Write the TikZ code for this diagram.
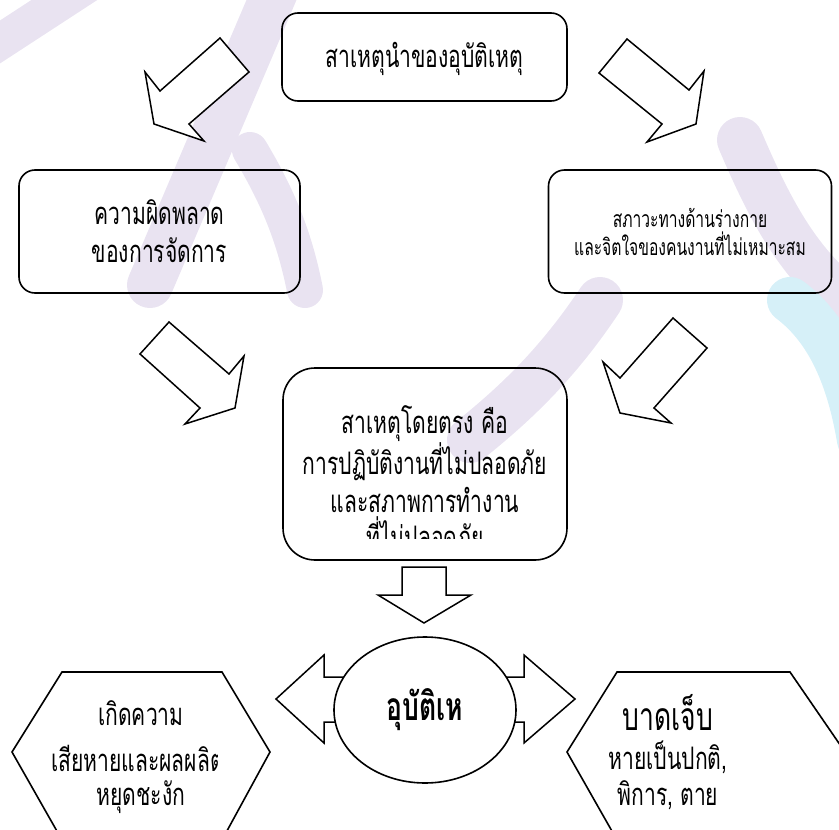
\documentclass[tikz,border=0pt]{standalone}
\usepackage{fontspec}
\newfontfamily\thaifont[Script=Thai,FakeStretch=0.68]{Loma}
\usetikzlibrary{shapes.geometric}
\definecolor{wmpurple}{RGB}{233,227,241}
\definecolor{wmblue}{RGB}{214,240,248}

\begin{document}
\begin{tikzpicture}[x=1pt,y=-1pt]
        \tikzset{
            box/.style={draw, line width=1.6pt, rounded corners=16pt, align=center},
            bigtext/.style={font=\thaifont\fontsize{31}{38}\selectfont, inner sep=1pt},
            smalltext/.style={font=\thaifont\fontsize{23}{28}\selectfont},
            blockarrow/.style={draw, line width=1.5pt, line join=miter, fill=white},
            band/.style={line width=46pt, line cap=round, wmpurple}
        }
        \useasboundingbox (0,0) rectangle (839,830);

        % watermark behind everything
        \draw[band, line width=36pt] (-20,55) -- (95,-20);
        \draw[band] (280,-20) -- (150,285);
        \draw[band, line width=36pt] (250,150) .. controls (280,200) and (295,240) .. (305,290);
        \draw[band] (600,300) .. controls (560,360) and (520,400) .. (470,440);
        \draw[band] (740,140) .. controls (770,210) and (800,270) .. (860,310);
        \draw[band, wmblue] (790,300) .. controls (830,330) and (850,380) .. (860,440);

        % boxes
        \node[box, bigtext, inner sep=4pt, text height=30pt, minimum width=285pt, minimum height=88pt] (cause) at (424.5,57) {สาเหตุนำของอุบัติเหตุ};
        \node[box, bigtext, inner sep=4pt, minimum width=281pt, minimum height=123pt] (mgmt) at (159.5,231.5) {ความผิดพลาด\\ของการจัดการ};
        \node[box, smalltext, minimum width=283pt, minimum height=123pt] (state) at (690,231.5) {สภาวะทางด้านร่างกาย\\และจิตใจของคนงานที่ไม่เหมาะสม};
        \node[box, minimum width=284pt, minimum height=192pt, rounded corners=32pt] (direct) at (425,464) {};
        \node[bigtext, align=center] (directtext) at (425,459) {สาเหตุโดยตรง คือ\\การปฏิบัติงานที่ไม่ปลอดภัย\\และสภาพการทำงาน};
        \begin{scope}
            \clip (290,508) rectangle (560,538);
            \node[bigtext] (directlast) at (425,533) {ที่ไม่ปลอดภัย};
        \end{scope}

        % block arrows
        \draw[blockarrow] (220,38) -- (249,72) -- (189,124) -- (204,141) -- (154,124) -- (145,72) -- (160,91) -- cycle;
        \draw[blockarrow] (627,39) -- (689,90) -- (704,71) -- (696,124) -- (647,142) -- (662,124) -- (599,73) -- cycle;
        \draw[blockarrow] (169,322) -- (229,374) -- (244,356) -- (235,408) -- (185,424) -- (200,408) -- (140,354) -- cycle;
        \draw[blockarrow] (673,318) -- (707,348) -- (654,408) -- (671,423) -- (620,413) -- (603,362) -- (620,378) -- cycle;
        \draw[blockarrow] (402,567) -- (446,567) -- (446,595) -- (471,595) -- (424,623) -- (378,595) -- (402,595) -- cycle;
        \draw[blockarrow] (370,677) -- (324,677) -- (324,655) -- (276,699) -- (324,743) -- (324,722) -- (370,722) -- cycle;
        \draw[blockarrow] (480,677) -- (524,677) -- (524,655) -- (575,699) -- (524,743) -- (524,722) -- (480,722) -- cycle;

        % accident
        \node[ellipse, draw, line width=1.6pt, fill=white, minimum width=182pt, minimum height=146pt,
              font=\thaifont\bfseries\fontsize{39}{42}\selectfont] (acc) at (425,710) {อุบัติเห};

        % results
        \draw[line width=1.6pt] (62,840) -- (12,752) -- (62,672) -- (222,672) -- (270,752) -- (222,840);
        \draw[line width=1.6pt] (617,840) -- (567,752) -- (617,672) -- (790,672) -- (845,752);
        \node[bigtext] (loss1) at (141,713) {เกิดความ};
        \begin{scope}
            \clip (20,738) rectangle (217,782);
            \node[bigtext, anchor=west] (loss2) at (50,758) {เสียหายและผลผลิต};
        \end{scope}
        \node[bigtext] (loss3) at (141,797) {หยุดชะงัก};
        \node[font=\thaifont\fontsize{39}{42}\selectfont, inner sep=1pt] (hurt1) at (668,713) {บาดเจ็บ};
        \node[bigtext] (hurt2) at (668,757) {หายเป็นปกติ,};
        \node[bigtext] (hurt3) at (668,795) {พิการ, ตาย};
\end{tikzpicture}
\end{document}
